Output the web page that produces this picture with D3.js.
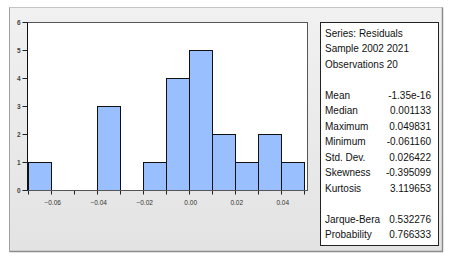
<!DOCTYPE html>
<html>
<head>
<meta charset="utf-8">
<script src="https://cdn.jsdelivr.net/npm/d3@7"></script>
<style>
  html, body { margin: 0; padding: 0; background: #fff; }
  svg { display: block; font-family: "Liberation Sans", Arial, sans-serif; }
</style>
</head>
<body>
<div id="chart"></div>
<script>
// histogram bins (edges) and counts
const binStarts = [-0.07, -0.06, -0.05, -0.04, -0.03, -0.02, -0.01, 0.00, 0.01, 0.02, 0.03, 0.04];
const binEnds   = [-0.06, -0.05, -0.04, -0.03, -0.02, -0.01, 0.00, 0.01, 0.02, 0.03, 0.04, 0.05];
const counts    = [1, 0, 0, 3, 0, 1, 4, 5, 2, 1, 2, 1];

const xTickLabels = [-0.06, -0.04, -0.02, 0.00, 0.02, 0.04];
const xMinorTicks = [-0.07, -0.06, -0.05, -0.04, -0.03, -0.02, -0.01, 0.00, 0.01, 0.02, 0.03, 0.04, 0.05];
const yTicks = [0, 1, 2, 3, 4, 5, 6];

// statistics panel
const headerLines = ["Series: Residuals", "Sample 2002 2021", "Observations 20"];
const statNames  = ["Mean", "Median", "Maximum", "Minimum", "Std. Dev.", "Skewness", "Kurtosis"];
const statValues = ["-1.35e-16", "0.001133", "0.049831", "-0.061160", "0.026422", "-0.395099", "3.119653"];
const testNames  = ["Jarque-Bera", "Probability"];
const testValues = ["0.532276", "0.766333"];

const W = 456, H = 260;
const plot = { left: 27.5, right: 307.5, top: 22.5, bottom: 190.5 };

const svg = d3.select("#chart").append("svg")
    .attr("width", W)
    .attr("height", H);

const defs = svg.append("defs");
const grad = defs.append("linearGradient")
    .attr("id", "frameGrad")
    .attr("x1", 0).attr("y1", 0).attr("x2", 0).attr("y2", 1);
grad.append("stop").attr("offset", "0%").attr("stop-color", "#f1f1f1");
grad.append("stop").attr("offset", "100%").attr("stop-color", "#e3e3e3");

// outer frame
svg.append("rect")
    .attr("x", 9.5).attr("y", 7.5)
    .attr("width", 433).attr("height", 244)
    .attr("fill", "url(#frameGrad)")
    .attr("stroke", "#c4c4c4");
svg.append("path")
    .attr("d", "M442.5,7.5V251.5H9.5")
    .attr("fill", "none")
    .attr("stroke", "#8c8c8c")
    .attr("stroke-width", 1.5);
svg.append("line")
    .attr("x1", 9.5).attr("x2", 9.5).attr("y1", 7.5).attr("y2", 251.5)
    .attr("stroke", "#a0a0a0");

// plot area
const x = d3.scaleLinear()
    .domain([-0.0705, 0.0512])
    .range([plot.left, plot.right]);

const y = d3.scaleLinear()
    .domain([0, 6])
    .range([plot.bottom, plot.top]);

const px = v => Math.round(x(v) - 0.5) + 0.5;
const py = v => Math.round(y(v) - 0.5) + 0.5;

svg.append("rect")
    .attr("x", plot.left).attr("y", plot.top)
    .attr("width", plot.right - plot.left)
    .attr("height", plot.bottom - plot.top)
    .attr("fill", "#fff")
    .attr("stroke", "#555");

// bars
svg.selectAll(".bar")
    .data(counts.map((c, i) => ({ x0: binStarts[i], x1: binEnds[i], c: c })).filter(d => d.c > 0))
    .enter().append("rect")
    .attr("class", "bar")
    .attr("x", d => px(d.x0))
    .attr("y", d => py(d.c))
    .attr("width", d => px(d.x1) - px(d.x0))
    .attr("height", d => py(0) - py(d.c))
    .attr("fill", "#99bfff")
    .attr("stroke", "#111")
    .attr("stroke-width", 1);

// x axis
const xAxis = svg.append("g")
    .attr("transform", `translate(0,${plot.bottom})`)
    .call(d3.axisBottom(x).tickValues(xMinorTicks).tickSize(4).tickFormat(""))
    .call(g => g.select(".domain").remove());
xAxis.selectAll(".tick line").attr("stroke", "#222");
xAxis.selectAll(".tick").attr("transform", d => `translate(${px(d)},0)`);

svg.append("g")
    .selectAll("text")
    .data(xTickLabels)
    .enter().append("text")
    .attr("x", d => x(d) + 1)
    .attr("y", plot.bottom + 14)
    .attr("text-anchor", "middle")
    .style("font-size", "6.5px")
    .style("fill", "#333")
    .text(d => d3.format(".2f")(d));

svg.append("line")
    .attr("x1", plot.left).attr("x2", plot.right)
    .attr("y1", plot.bottom).attr("y2", plot.bottom)
    .attr("stroke", "#555");

// y axis
const yAxis = svg.append("g")
    .attr("transform", `translate(${plot.left},0)`)
    .call(d3.axisLeft(y).tickValues(yTicks).tickSize(5).tickPadding(2).tickFormat(d3.format("d")));
yAxis.select(".domain").attr("stroke", "#111").attr("d", `M0,${plot.top}V${plot.bottom}`);
yAxis.selectAll(".tick").attr("transform", d => `translate(0,${py(d)})`);
yAxis.selectAll(".tick line").attr("stroke", "#222");
yAxis.selectAll(".tick text")
    .style("font-size", "6.5px")
    .style("font-family", "'Liberation Sans', Arial, sans-serif")
    .style("font-weight", "bold")
    .style("fill", "#444");

// statistics box
const box = { left: 320.5, top: 22.5, right: 438.5, bottom: 245.5 };
svg.append("rect")
    .attr("x", box.left).attr("y", box.top)
    .attr("width", box.right - box.left)
    .attr("height", box.bottom - box.top)
    .attr("fill", "#fff")
    .attr("stroke", "#222");

const rowY = i => 36.5 + 15.5 * i;
const labelX = 325, valueX = 431;

const rows = [];
headerLines.forEach((t, i) => rows.push({ row: i, label: t, value: "" }));
statNames.forEach((t, i) => rows.push({ row: 4 + i, label: t, value: statValues[i] }));
testNames.forEach((t, i) => rows.push({ row: 12 + i, label: t, value: testValues[i] }));

const stat = svg.append("g")
    .style("font-size", "10px")
    .style("fill", "#111");

stat.selectAll(".lbl")
    .data(rows)
    .enter().append("text")
    .attr("class", "lbl")
    .attr("x", labelX)
    .attr("y", d => rowY(d.row))
    .text(d => d.label);

stat.selectAll(".val")
    .data(rows.filter(d => d.value))
    .enter().append("text")
    .attr("class", "val")
    .attr("x", valueX)
    .attr("y", d => rowY(d.row))
    .attr("text-anchor", "end")
    .text(d => d.value);
</script>
</body>
</html>
